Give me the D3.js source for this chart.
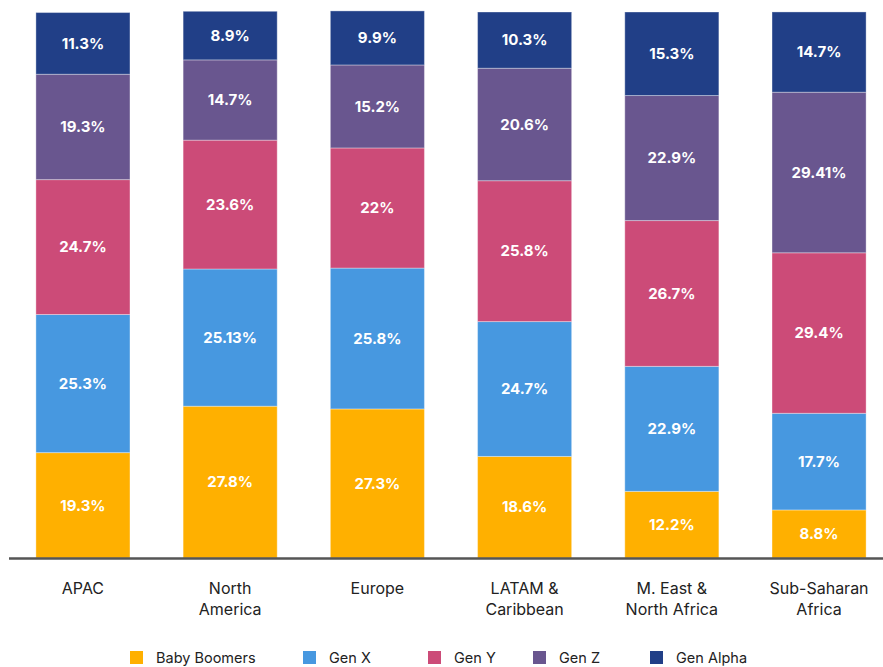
<!DOCTYPE html>
<html>
<head>
<meta charset="utf-8">
<script src="https://cdn.jsdelivr.net/npm/d3@7"></script>
<style>
  body { margin: 0; background: #fff; }
  svg { font-family: Inter, "Noto Sans", sans-serif; }
</style>
</head>
<body>
<svg width="883" height="667"></svg>
<script>
// regions and generation shares (%)
var regions = ["APAC", "North America", "Europe", "LATAM & Caribbean", "M. East & North Africa", "Sub-Saharan Africa"]
var regionLines = [["APAC"], ["North", "America"], ["Europe"], ["LATAM &", "Caribbean"], ["M. East &", "North Africa"], ["Sub-Saharan", "Africa"]]
var generations = ["Baby Boomers", "Gen X", "Gen Y", "Gen Z", "Gen Alpha"]
var babyBoomers = [19.3, 27.8, 27.3, 18.6, 12.2, 8.8]
var genX = [25.3, 25.13, 25.8, 24.7, 22.9, 17.7]
var genY = [24.7, 23.6, 22, 25.8, 26.7, 29.4]
var genZ = [19.3, 14.7, 15.2, 20.6, 22.9, 29.41]
var genAlpha = [11.3, 8.9, 9.9, 10.3, 15.3, 14.7]
var colors = ["#FFB000", "#4798E0", "#CC4B78", "#69568F", "#213F87"]

var series = [babyBoomers, genX, genY, genZ, genAlpha]
var table = regions.map((r, i) => {
  var row = {region: r}
  generations.forEach((g, j) => row[g] = series[j][i])
  return row
})

var svg = d3.select("svg")
var xScale = d3.scaleBand().domain(regions).range([9.4, 892.6]).paddingInner(0.361).paddingOuter(0.18)
var yScale = d3.scaleLinear().domain([0, 100]).range([558, 12])
var cScale = d3.scaleOrdinal().domain(generations).range(colors)

var stacked = d3.stack().keys(generations)(table)

var layers = svg.selectAll("g.layer")
  .data(stacked)
  .enter()
  .append("g")
  .attr("class", "layer")
  .style("fill", d => cScale(d.key))

layers.selectAll("rect")
  .data(d => d)
  .enter()
  .append("rect")
  .attr("x", d => xScale(d.data.region))
  .attr("y", d => yScale(d[1]))
  .attr("height", d => yScale(d[0]) - yScale(d[1]))
  .attr("width", xScale.bandwidth())
  .style("stroke", "#fff")
  .style("stroke-opacity", 0.35)
  .style("stroke-width", 1)

layers.selectAll("text")
  .data(d => d.map(v => ({v: v, key: d.key})))
  .enter()
  .append("text")
  .attr("x", d => xScale(d.v.data.region) + xScale.bandwidth() / 2)
  .attr("y", d => (yScale(d.v[0]) + yScale(d.v[1])) / 2)
  .attr("dy", "0.35em")
  .attr("text-anchor", "middle")
  .style("fill", "#fff")
  .style("font-size", "15px")
  .style("font-weight", "700")
  .text(d => d.v.data[d.key] + "%")

// baseline
svg.append("line")
  .attr("x1", 9).attr("x2", 883)
  .attr("y1", yScale(0) + 0.5).attr("y2", yScale(0) + 0.5)
  .style("stroke", "#555")
  .style("stroke-width", 2.5)

// category labels
var cats = svg.append("g").selectAll("text")
  .data(regions)
  .enter()
  .append("text")
  .attr("x", d => xScale(d) + xScale.bandwidth() / 2)
  .attr("y", 594)
  .attr("text-anchor", "middle")
  .style("fill", "#222")
  .style("font-size", "16px")
cats.selectAll("tspan")
  .data((d, i) => regionLines[i])
  .enter()
  .append("tspan")
  .attr("x", function() { return this.parentNode.getAttribute("x") })
  .attr("dy", (d, i) => i == 0 ? 0 : 21)
  .text(d => d)

// legend
var legendX = [130, 303, 428, 533, 650]
var legend = svg.append("g").selectAll("g")
  .data(generations)
  .enter()
  .append("g")
  .attr("transform", (d, i) => "translate(" + legendX[i] + ",651)")
legend.append("rect")
  .attr("width", 13).attr("height", 13)
  .style("fill", d => cScale(d))
legend.append("text")
  .attr("x", 26).attr("y", 7)
  .attr("dy", "0.35em")
  .style("fill", "#222")
  .style("font-size", "14.5px")
  .text(d => d)
</script>
</body>
</html>
